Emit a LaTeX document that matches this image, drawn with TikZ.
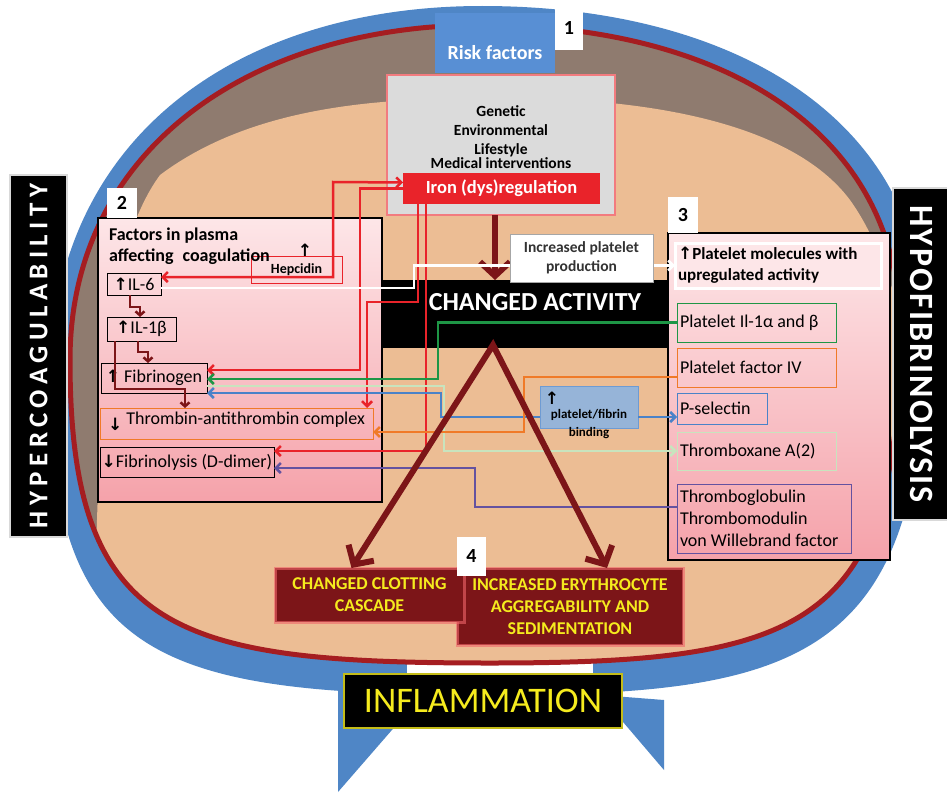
\documentclass[tikz,border=0pt]{standalone}
\usepackage{fontspec}
\setmainfont{Carlito}
\newfontfamily\arrowfont{DejaVu Sans}
\usepackage{tikz}
\usetikzlibrary{arrows.meta,positioning}

\definecolor{ribbon}{RGB}{79,134,198}
\definecolor{riskblue}{RGB}{88,143,212}
\definecolor{ringred}{RGB}{165,29,33}
\definecolor{crust}{RGB}{143,123,111}
\definecolor{flesh}{RGB}{236,189,148}
\definecolor{ironred}{RGB}{233,35,42}
\definecolor{bloodred}{RGB}{124,21,24}
\definecolor{pinktop}{RGB}{253,230,232}
\definecolor{pinkbot}{RGB}{245,162,170}
\definecolor{lngreen}{RGB}{30,150,70}
\definecolor{lnorange}{RGB}{240,122,40}
\definecolor{lnblue}{RGB}{74,130,200}
\definecolor{lnpale}{RGB}{200,228,190}
\definecolor{lnpurple}{RGB}{100,82,160}
\definecolor{fibblue}{RGB}{150,180,216}
\definecolor{cascyellow}{RGB}{245,235,30}

\newcommand\upar{{\arrowfont\bfseries\fontsize{17}{17}\selectfont ↑}}
\newcommand\dnar{{\arrowfont\bfseries\fontsize{17}{17}\selectfont ↓}}

% outline of the egg and of the blue ribbon (pixel coordinates)
\newcommand\eggpath{(70,360) .. controls (70,150) and (250,25) .. (482,25)
  .. controls (720,25) and (900,130) .. (900,330)
  .. controls (900,630) and (800,663) .. (490,663)
  .. controls (175,663) and (70,633) .. (70,360) -- cycle}
\newcommand\ribbonpath{(50,380) .. controls (50,140) and (235,6) .. (482,6)
  .. controls (735,6) and (925,120) .. (925,330)
  .. controls (925,660) and (800,695) .. (490,695)
  .. controls (160,695) and (50,660) .. (50,380) -- cycle}

\begin{document}
\begin{tikzpicture}[
  x=1pt, y=-1pt,
  >={Straight Barb[length=5pt,width=10pt]},
  bigtip/.tip={Straight Barb[length=14pt,width=30pt]},
  smalltip/.tip={Straight Barb[length=4pt,width=9pt]},
  bx/.style={anchor=north west, inner sep=0pt, outer sep=0pt},
  numbox/.style={bx, fill=white, font=\bfseries\fontsize{20}{20}\selectfont},
  entry/.style={bx, draw, line width=0.8pt, font=\fontsize{18}{22}\selectfont},
  lft/.style={align=flush left, inner xsep=3pt},
  panel/.style={bx, draw=black, line width=2.5pt, top color=pinktop, bottom color=pinkbot},
  redbox/.style={bx, fill=bloodred, draw=ironred!70, draw opacity=0.6, line width=3pt,
    text=cascyellow, align=center, font=\bfseries\fontsize{18}{22}\selectfont},
  sidebar/.style={fill=black, draw=gray!30, line width=1.5pt, text=white, inner sep=0pt},
  ln/.style={line width=2.5pt},
  elbow/.style={bloodred, line width=2.5pt, -smalltip},
  bigarr/.style={bloodred, line width=6pt, -bigtip}
]
  \useasboundingbox (0,0) rectangle (947,792);
  \fill[white] (0,0) rectangle (947,792);

  % ribbon and egg
  \fill[ribbon] \ribbonpath;
  \fill[white] (407,640) rectangle (593,720);
  \fill[ribbon] (338,688) -- (338,792) -- (418,700) -- cycle;
  \fill[ribbon] (600,695) -- (664,770) -- (664,700) -- cycle;
  \fill[crust] \eggpath;
  \begin{scope}
    \clip \eggpath;
    \fill[flesh] (95,590) .. controls (100,400) and (105,250) .. (160,175)
      .. controls (260,100) and (400,98) .. (505,98)
      .. controls (640,98) and (790,120) .. (850,200)
      .. controls (875,235) and (885,270) .. (900,310)
      -- (960,310) -- (960,800) -- (0,800) -- (0,590) -- cycle;
  \end{scope}
  \draw[ringred, line width=5pt] \eggpath;

  % 1: risk factors
  \node[bx, fill=riskblue, minimum width=120pt, minimum height=60pt, text height=34pt,
    text=white, font=\bfseries\fontsize{20}{20}\selectfont] (risk) at (435,13) {Risk factors};
  \node[numbox, minimum width=28pt, minimum height=43pt] (n1) at (555,7) {1};
  \node[bx, fill=gray!28, draw=ironred!60, line width=2.5pt, minimum width=228pt,
    minimum height=140pt] (risks) at (387,75) {};
  \node[align=center, font=\bfseries\fontsize{15.5}{19}\selectfont] (risklist) at (501,137)
    {Genetic\\Environmental\\Lifestyle\\[-5pt]Medical interventions};
  \node[bx, fill=ironred, minimum width=197pt, minimum height=31pt, text=white,
    font=\bfseries\fontsize{18.5}{20}\selectfont] (iron) at (403,173) {Iron (dys)regulation};

  \node[bx, fill=black, minimum width=295pt, minimum height=68pt] (act) at (373,280) {};
  \node[text=white, font=\bfseries\fontsize{26}{26}\selectfont] (actlbl) at (535,302) {CHANGED ACTIVITY};

  % 2: plasma factors
  \node[panel, minimum width=284pt, minimum height=284pt] (plasma) at (98,218) {};
  \node[numbox, minimum width=30pt, minimum height=30pt, above right=0pt and 9pt of plasma.north west] (n2) {2};
  \node[bx, draw=ironred, line width=0.8pt, minimum width=91pt, minimum height=27pt,
    font=\bfseries\fontsize{14}{14}\selectfont] (hep) at (251,256) {Hepcidin};
  \node[font=\fontsize{14}{14}\selectfont] (hepup) at (305,250) {\upar};
  \node[bx, align=flush left, font=\bfseries\fontsize{18}{21}\selectfont] (plasmattl) at (109,228)
    {Factors in plasma\\affecting\enspace coagulation};
  \node[entry, minimum width=54pt, minimum height=22pt] (il6) at (107,273) {\upar IL-6};
  \node[entry, minimum width=69pt, minimum height=24pt] (il1b) at (107,317) {\upar IL-1β};
  \node[entry, minimum width=106pt, minimum height=30pt] (fib) at (101,363) {\upar\ Fibrinogen};
  \node[entry, draw=lnorange, minimum width=273pt, minimum height=31pt, text depth=11pt] (tat) at (100,408)
    {\raisebox{-6pt}{\dnar}\ Thrombin-antithrombin complex};
  \node[entry, minimum width=174pt, minimum height=30pt] (fdd) at (100,447) {\dnar Fibrinolysis (D-dimer)};

  % 3: platelet molecules
  \node[panel, minimum width=222pt, minimum height=327pt] (plat) at (668,233) {};
  \node[numbox, minimum width=30pt, minimum height=36pt, above right=0pt and 0pt of plat.north west] (n3) {3};
  \node[bx, lft, text width=200pt, draw=white, line width=3pt, fill=pinktop, minimum height=45pt,
    font=\bfseries\fontsize{17}{21}\selectfont] (pmol) at (675,243)
    {\upar Platelet molecules with\\upregulated activity};
  \node[entry, lft, text width=153pt, draw=lngreen, minimum height=39pt] (pil) at (677,303) {Platelet Il-1α and β};
  \node[entry, lft, text width=153pt, draw=lnorange, minimum height=39pt] (pf4) at (677,348) {Platelet factor IV};
  \node[entry, lft, text width=84pt, draw=lnblue, minimum height=31pt] (psel) at (677,393) {P-selectin};
  \node[entry, lft, text width=153pt, draw=lnpale, minimum height=38pt] (txa) at (677,432) {Thromboxane A(2)};
  \node[entry, lft, text width=168pt, draw=lnpurple, minimum height=69pt] (tg) at (677,484)
    {Thromboglobulin\\Thrombomodulin\\von Willebrand factor};

  % 4: changed activity arrows
  \draw[bigarr] ([xshift=-6pt]risks.south) -- ([xshift=-6pt]risks.south |- act.north);
  \coordinate (apex) at (493,345);
  \node[bx, fill=fibblue, draw=lnblue!80, line width=1pt, minimum width=98pt, minimum height=42pt] (pfb) at (540,386) {};

  % connectors
  \draw[ln, ironred, <->] ([yshift=7pt]il6.east) -| (333,182) -- ([yshift=6pt]iron.west);
  \draw[ln, ironred, ->] (iron.west) -| (360,370) -- ([yshift=8pt]fib.east);
  \draw[ln, ironred, ->] (418,0 |- iron.south) |- (367,302) -- (367,0 |- tat.north);
  \draw[ln, ironred, ->] (426,0 |- iron.south) |- ([yshift=-4pt]fdd.north east);
  \draw[ln, white, ->] ([yshift=-4pt]il6.east) -| (414,0 |- pmol.west) -- (pmol.west);
  \draw[ln, lngreen, ->] (pil.west) -| (438,379) -- ([yshift=-1pt]fib.east);
  \draw[ln, lnpale, ->] ([yshift=-8pt]fib.east) -| (444,0 |- txa.west) -- (txa.west);
  \draw[ln, lnblue, <-] ([yshift=-15pt]fib.east) -| (441,417) -- ([yshift=-10pt]pfb.west);
  \draw[ln, lnblue, ->] ([yshift=-10pt]pfb.east) -- ([yshift=-8.5pt]psel.west);
  \draw[ln, lnorange, ->] ([yshift=-9.5pt]pf4.west) -| (524,432) -- ([yshift=-8.5pt]tat.east);
  \draw[ln, lnpurple, ->] ([yshift=11.5pt]tg.west) -| (475,468) -- ([yshift=-6pt]fdd.east);
  \draw[elbow] (130,0 |- il6.south) |- (140,307) -- (140,0 |- il1b.north);
  \draw[elbow] (138,0 |- il1b.south) |- (148,352) -- (148,0 |- fib.north);
  \draw[elbow] (115,0 |- il1b.south) |- (185,389) -- (185,0 |- tat.north);

  \node[align=center, font=\bfseries\fontsize{13}{18}\selectfont] (pfblbl) at (589,424) {platelet/fibrin\\binding};
  \node[font=\fontsize{13}{13}\selectfont] (pfbup) at (552,398) {\upar};
  \node[bx, fill=white, draw=gray!70, line width=0.8pt, minimum width=143pt, minimum height=48pt,
    align=center, text=black!80, font=\bfseries\fontsize{15.5}{19}\selectfont] (ipp) at (510,234)
    {Increased platelet\\production};

  % side bars
  \node[sidebar, rotate=90, minimum width=362pt, minimum height=57pt,
    font=\bfseries\fontsize{27}{27}\selectfont\addfontfeature{LetterSpace=20}] (hyper) at (38.5,356) {HYPERCOAGULABILITY};
  \node[sidebar, rotate=-90, minimum width=332pt, minimum height=57pt,
    font=\bfseries\fontsize{34}{34}\selectfont\addfontfeature{LetterSpace=6}] (hypo) at (921.5,354) {HYPOFIBRINOLYSIS};

  % outcomes
  \node[redbox, minimum width=226pt, minimum height=77pt] (ery) at (457,568)
    {INCREASED ERYTHROCYTE\\AGGREGABILITY AND\\SEDIMENTATION};
  \node[redbox, minimum width=189pt, minimum height=54pt] (clot) at (275,568) {CHANGED CLOTTING\\CASCADE};
  \draw[bigarr, bigtip-bigtip, line join=miter] ([xshift=-18pt]clot.north) -- (apex) -- ([xshift=37pt]ery.north);
  \node[numbox, minimum width=29pt, minimum height=39pt] (n4) at (457,537) {4};
  \node[bx, fill=black, draw=cascyellow!80!black, line width=1.2pt, minimum width=278pt, minimum height=54pt,
    text=cascyellow, font=\fontsize{36}{36}\selectfont] (infl) at (344,674) {INFLAMMATION};
\end{tikzpicture}
\end{document}
